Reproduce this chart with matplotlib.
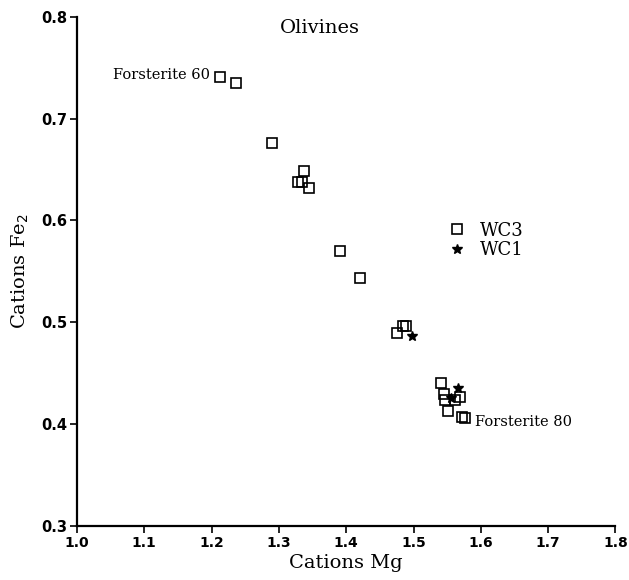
import matplotlib
matplotlib.use("Agg")
import matplotlib.pyplot as plt

# WC3 olivines (squares)
wc3_mg = [1.213, 1.237, 1.290, 1.338, 1.329, 1.335, 1.345, 1.391, 1.421,
          1.475, 1.485, 1.489, 1.541, 1.545, 1.547, 1.551, 1.562, 1.569,
          1.572, 1.576]
wc3_fe = [0.741, 0.735, 0.676, 0.649, 0.638, 0.638, 0.632, 0.570, 0.543,
          0.489, 0.496, 0.496, 0.440, 0.430, 0.424, 0.413, 0.424, 0.427,
          0.407, 0.406]
# WC1 olivines (stars)
wc1_mg = [1.498, 1.556, 1.566]
wc1_fe = [0.487, 0.426, 0.435]

x_ticks = [1.0, 1.1, 1.2, 1.3, 1.4, 1.5, 1.6, 1.7, 1.8]
y_ticks = [0.3, 0.4, 0.5, 0.6, 0.7, 0.8]

fig = plt.figure(figsize=(6.29, 5.8), dpi=100)
ax = fig.add_axes([0.1224, 0.0931, 0.8560, 0.8781])

serif = "DejaVu Serif"

ax.plot(wc3_mg, wc3_fe, linestyle="none", marker="s", markersize=6.5,
        markerfacecolor="none", markeredgecolor="black", markeredgewidth=1.2,
        label="WC3")
ax.plot(wc1_mg, wc1_fe, linestyle="none", marker="*", markersize=7,
        color="black", label="WC1")

ax.set_xlim(1.0, 1.8)
ax.set_ylim(0.3, 0.8)
ax.set_xticks(x_ticks)
ax.set_yticks(y_ticks)
ax.set_xticklabels([f"{v:.1f}" for v in x_ticks], fontsize=10,
                   fontweight="semibold")
ax.set_yticklabels([f"{v:.1f}" for v in y_ticks], fontsize=10.5,
                   fontweight="semibold")

for s in ["top", "right"]:
    ax.spines[s].set_visible(False)
for s in ["left", "bottom"]:
    ax.spines[s].set_linewidth(1.6)
ax.tick_params(direction="out", length=5, width=1.2, pad=2)

ax.set_xlabel("Cations Mg", fontsize=14, family=serif, labelpad=3)
ax.set_ylabel("Cations Fe$_2$", fontsize=14, family=serif, labelpad=7)

ax.text(1.361, 0.789, "Olivines", fontsize=14, family=serif,
        ha="center", va="center")
ax.text(1.198, 0.743, "Forsterite 60", fontsize=10.5, family=serif,
        ha="right", va="center")
ax.text(1.592, 0.402, "Forsterite 80", fontsize=10.5, family=serif,
        ha="left", va="center")

ax.legend(loc="upper left", bbox_to_anchor=(0.675, 0.612), frameon=False,
          prop={"family": serif, "size": 13}, handletextpad=0.8,
          labelspacing=0.1, borderaxespad=0, handlelength=1.0)

fig.savefig("out.png", dpi=100)
